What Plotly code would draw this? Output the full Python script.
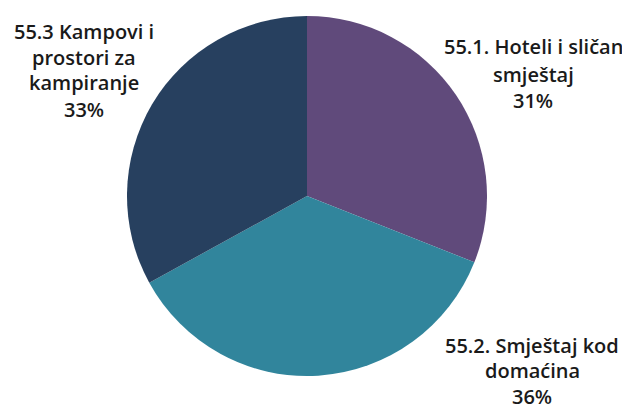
import plotly.graph_objects as go

labels = ["55.1. Hoteli i sličan smještaj", "55.2. Smještaj kod domaćina", "55.3 Kampovi i prostori za kampiranje"]
values = [31, 36, 33]
colors = ["#604a7b", "#31859c", "#27405f"]
label_lines = [["55.1. Hoteli i sličan", "smještaj", "31%"],
               ["55.2. Smještaj kod", "domaćina", "36%"],
               ["55.3 Kampovi i", "prostori za", "kampiranje", "33%"]]

fig = go.Figure(go.Pie(
    labels=labels, values=values, sort=False, direction="clockwise", rotation=0,
    marker=dict(colors=colors, line=dict(width=0)), textinfo="none", hoverinfo="label+percent",
    domain=dict(x=[119/630, 479/630], y=[42/410, 402/410]), showlegend=False,
))

# (center x, first line y, line step) in pixels
pos = [(525, 39, 27), (524, 337, 25.5), (76, 23, 26)]
for lines, (x, y0, dy) in zip(label_lines, pos):
    for i, t in enumerate(lines):
        fig.add_annotation(text=t, x=x/630, y=1 - (y0 + i*dy)/410, xref="paper", yref="paper",
                           showarrow=False, align="center", xanchor="center", yanchor="middle",
                           font=dict(family="Open Sans", size=20, color="#1a1a1a", weight=600))

fig.update_layout(width=630, height=410, margin=dict(l=0, r=0, t=0, b=0),
                  paper_bgcolor="white", plot_bgcolor="white")
fig.write_html("out.html")
